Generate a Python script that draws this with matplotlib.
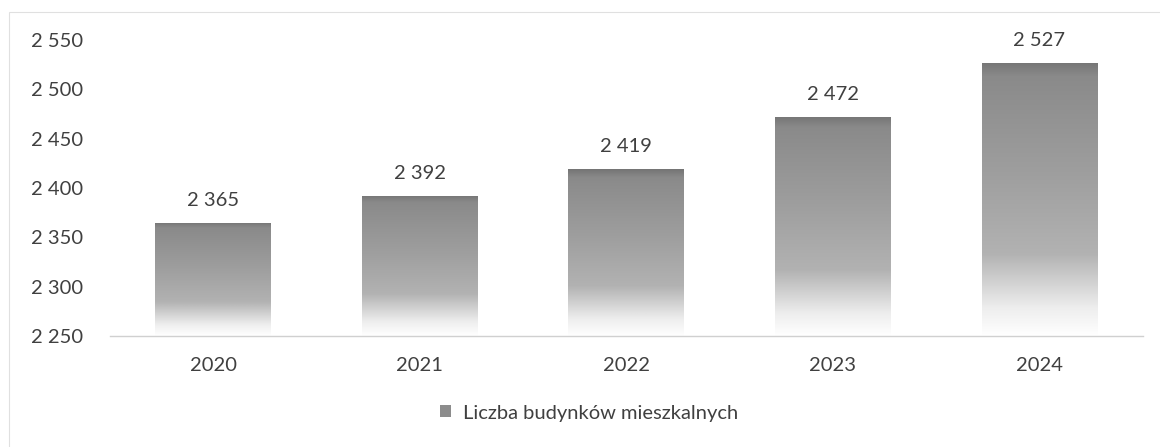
import numpy as np
import matplotlib
matplotlib.use('Agg')
import matplotlib.pyplot as plt
from matplotlib.colors import LinearSegmentedColormap
from matplotlib.patches import Rectangle, Patch

years = ['2020', '2021', '2022', '2023', '2024']
buildings = [2365, 2392, 2419, 2472, 2527]
legend_label = 'Liczba budynków mieszkalnych'
y_ticks = [2250, 2300, 2350, 2400, 2450, 2500, 2550]

plt.rcParams['font.family'] = ['Lato', 'DejaVu Sans']
txt = '#404040'
fs = 14.5

def fmt(v):
    return f"{v:,}".replace(",", " ")

fig = plt.figure(figsize=(11.6, 4.47), dpi=100)
ax = fig.add_axes([0.0948, 0.248, 0.8902, 0.6627])

# gradient: bottom (0) white -> top (1) dark gray
cmap = LinearSegmentedColormap.from_list('fade', [
    (0.0, '#ffffff'), (0.1, '#eeeeee'), (0.3, '#b2b2b2'),
    (0.6, '#9e9e9e'), (0.95, '#8a8a8a'), (1.0, '#757575')])
grad = np.linspace(0, 1, 256).reshape(-1, 1)

x = np.arange(len(years))
bars = ax.bar(x, np.array(buildings) - 2250, bottom=2250, width=0.56,
              facecolor='none', edgecolor='none')
for rect in bars:
    x0, y0 = rect.get_x(), rect.get_y()
    im = ax.imshow(grad, extent=[x0, x0 + rect.get_width(), y0, y0 + rect.get_height()],
                   origin='lower', aspect='auto', cmap=cmap, vmin=0, vmax=1, zorder=2)
    im.set_clip_path(rect)

for xi, v in zip(x, buildings):
    ax.annotate(fmt(v), (xi, v), xytext=(0, 10), textcoords='offset points',
                ha='center', va='bottom', fontsize=fs, color=txt)

ax.set_xlim(-0.5, len(years) - 0.5)
ax.set_ylim(2250, 2550)
ax.set_xticks(x)
ax.set_xticklabels(years)
ax.set_yticks(y_ticks)
ax.set_yticklabels([fmt(t) for t in y_ticks])
ax.tick_params(axis='both', length=0, labelsize=fs, labelcolor=txt)
ax.tick_params(axis='y', pad=19)
ax.tick_params(axis='x', pad=15)
for s in ['top', 'right', 'left']:
    ax.spines[s].set_visible(False)
ax.spines['bottom'].set_color('#d0d0d0')
ax.spines['bottom'].set_linewidth(1)

fig.legend(handles=[Patch(facecolor='#8c8c8c', edgecolor='none')], labels=[legend_label],
           loc='center', bbox_to_anchor=(0.508, 0.076), frameon=False, fontsize=fs,
           handlelength=0.55, handleheight=0.55, handletextpad=0.6, labelcolor=txt)

fig.patches.append(Rectangle((9 / 1160, -0.01), 1.02, 1 - 12 / 447 + 0.01,
                             transform=fig.transFigure, fill=False,
                             edgecolor='#e0e0e0', linewidth=0.8))

fig.savefig('out.png', dpi=100)
